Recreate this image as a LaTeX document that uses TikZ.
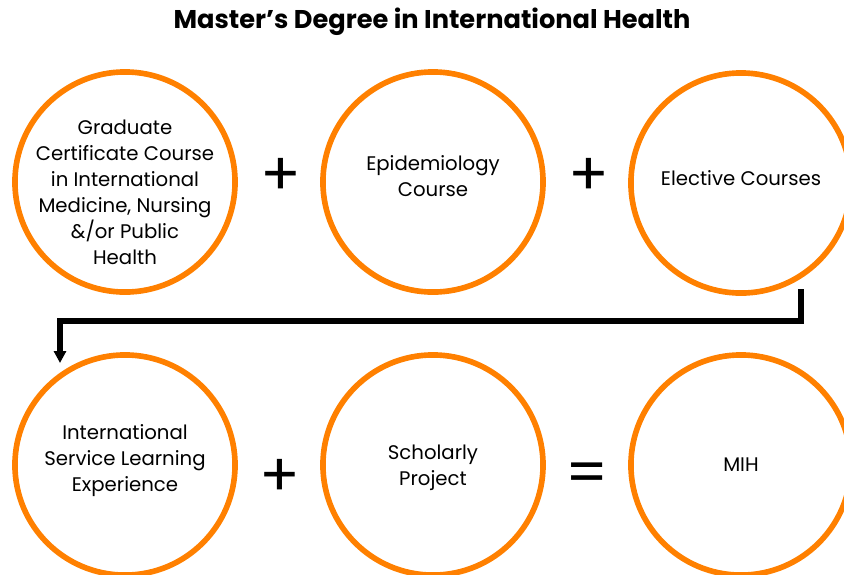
\documentclass[tikz,border=0pt]{standalone}
\usepackage{fontspec}
\setmainfont{Poppins}
\usetikzlibrary{arrows.meta,positioning}

\definecolor{ringorange}{HTML}{FF8000}

\tikzset{
  ring/.style={circle,draw=ringorange,line width=1.6pt,minimum size=2.2cm,inner sep=0pt},
  txt/.style={align=center,font=\fontsize{5.6}{7.4}\selectfont},
  op/.style={font=\fontsize{17}{17}\selectfont,inner sep=0pt},
  flow/.style={line width=1.5pt,-{Triangle[width=3.4pt,length=3.4pt]}}
}

\begin{document}
\begin{tikzpicture}[x=0.01cm,y=-0.01cm]
\useasboundingbox (0,0) rectangle (844,575);
\node[font=\fontsize{7.3}{8}\selectfont\bfseries] (title) at (432,22) {Master’s Degree in International Health};
% top row
\node[ring] (c1) at (125,182) {};
\node[ring] (c2) at (433,182) {};
\node[ring] (c3) at (741,183) {};
\node[txt] (t1) at (125,192) {Graduate\\Certificate Course\\in International\\Medicine, Nursing\\\&/or Public\\Health};
\node[txt] (t2) at (433,176) {Epidemiology\\Course};
\node[txt] (t3) at (741,178) {Elective Courses};
\node[op] (p1) at (281,177) {+};
\node[op] (p2) at (589,177) {+};
% bottom row
\node[ring] (c4) at (125,465) {};
\node[ring] (c5) at (433,465) {};
\node[ring] (c6) at (741,465) {};
\node[txt] (t4) at (125,461) {International\\Service Learning\\Experience};
\node[txt] (t5) at (433,468) {Scholarly\\Project};
\node[txt] (t6) at (741,465) {MIH};
\node[op] (p3) at (280,478) {+};
\node[op] (eq) at (587,478) {=};
% link between the rows
\coordinate (from) at (801,289);
\coordinate (to) at (60,363);
\draw[flow] (from) |- (60,321) -- (to);
\end{tikzpicture}
\end{document}
